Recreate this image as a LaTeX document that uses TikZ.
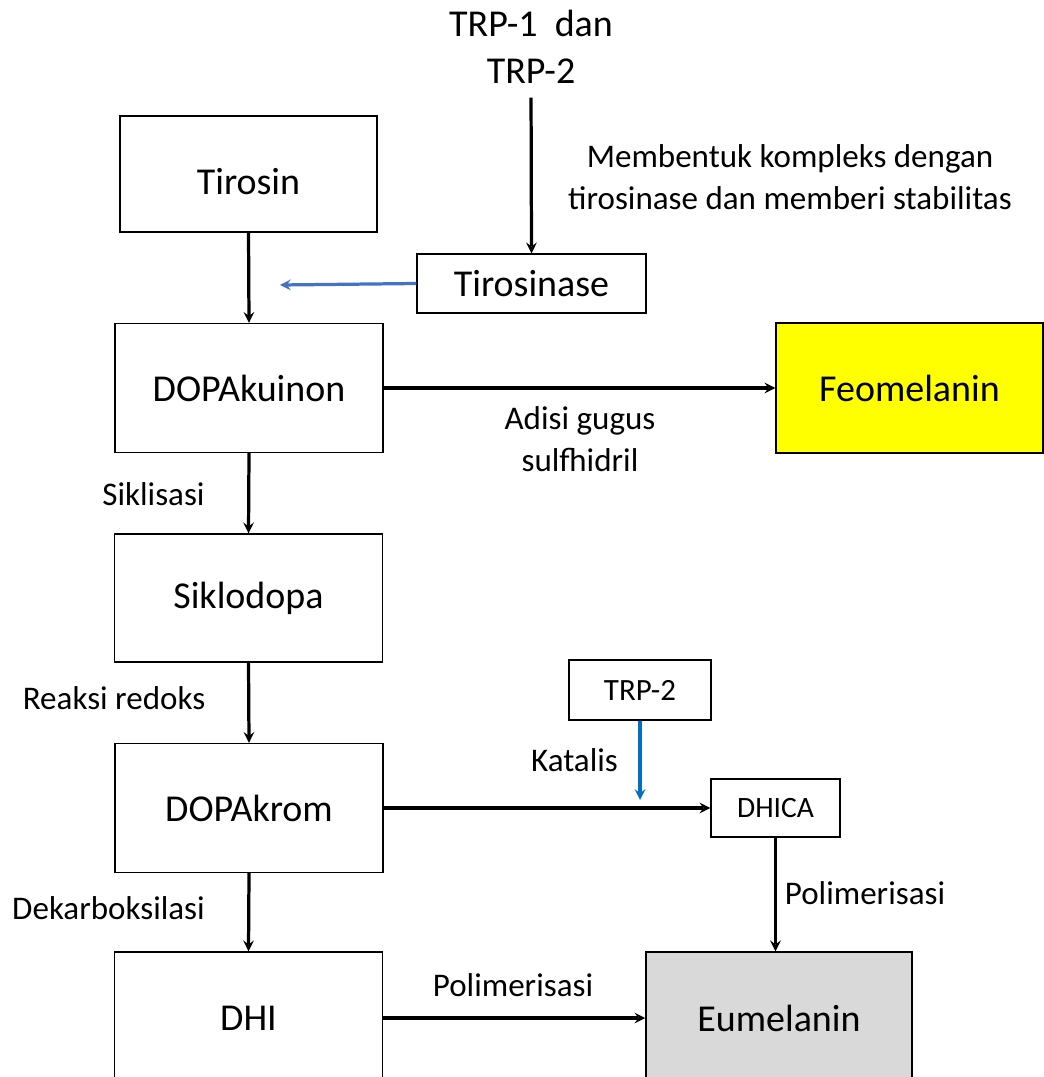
\documentclass[tikz,border=0pt]{standalone}
\usepackage{fontspec}
\setmainfont{Carlito}
\definecolor{tirblue}{HTML}{4472C4}
\definecolor{catblue}{HTML}{0070C0}
\definecolor{feoyellow}{HTML}{FFFF00}
\definecolor{eugray}{HTML}{D9D9D9}

\begin{document}
\begin{tikzpicture}[x=0.025cm,y=-0.025cm,>=stealth,
    flow/.style={->,line width=2.3pt},
    helper/.style={->,line width=2.3pt},
    box/.style={draw,line width=1pt,inner sep=0pt,font=\fontsize{27}{33}\selectfont},
    bigbox/.style={box,minimum width=6.7cm,minimum height=3.225cm},
    smallbox/.style={box,font=\fontsize{21}{25}\selectfont},
    note/.style={align=center,inner sep=0pt,font=\fontsize{23.5}{30}\selectfont}]
    \clip (0,0) rectangle (1044,1077);

    % enzim
    \node[align=center,inner sep=0pt,font=\fontsize{27}{33}\selectfont] (trp) at (531,47) {TRP-1~~dan\\TRP-2};
    \node[box,minimum width=5.725cm,minimum height=1.475cm] (tirosinase) at (531.5,283.5) {Tirosinase};
    \node[smallbox,font=\fontsize{22}{26}\selectfont,minimum width=3.55cm,minimum height=1.5cm] (trp2) at (640,690) {TRP-2};
    \node[smallbox,minimum width=3.225cm,minimum height=1.45cm] (dhica) at (775.5,808) {DHICA};

    % jalur utama
    \node[bigbox,minimum width=6.425cm,minimum height=2.9cm,text height=29pt] (tirosin) at (248.5,174) {Tirosin};
    \node[bigbox] (dopakuinon) at (249,388) {DOPAkuinon};
    \node[bigbox,fill=feoyellow,minimum width=6.675cm,minimum height=3.25cm] (feomelanin) at (909.5,388) {Feomelanin};
    \node[bigbox,minimum height=3.2cm] (siklodopa) at (248.5,598) {Siklodopa};
    \node[bigbox] (dopakrom) at (249,808) {DOPAkrom};
    \node[bigbox,minimum height=3.3cm] (dhi) at (248.5,1018) {DHI};
    \node[bigbox,fill=eugray,minimum width=6.65cm,minimum height=3.3cm] (eumelanin) at (779,1018) {Eumelanin};

    \coordinate (tiroshit) at (280,285);
    \coordinate (trphit) at (640,800);

    \draw[flow,shorten <=10pt] (trp.south) -- (tirosinase.north);
    \draw[flow] (tirosin.south) -- (dopakuinon.north);
    \draw[flow] (dopakuinon.east) -- (feomelanin.west);
    \draw[flow] (dopakuinon.south) -- (siklodopa.north);
    \draw[flow] (siklodopa.south) -- (dopakrom.north);
    \draw[flow] (dopakrom.east) -- (dhica.west);
    \draw[flow] (dopakrom.south) -- (dhi.north);
    \draw[flow] (dhica.south) -- (dhica.south |- eumelanin.north);
    \draw[flow] (dhi.east) -- (eumelanin.west);
    \draw[helper,tirblue] (tirosinase.west) -- (tiroshit);
    \draw[helper,catblue] (trp2.south) -- (trphit);

    % keterangan
    \node[note] (stabil) at (790,177) {Membentuk kompleks dengan\\tirosinase dan memberi stabilitas};
    \node[note] (adisi) at (580,439) {Adisi gugus\\sulfhidril};
    \node[note] (siklisasi) at (153.5,494) {Siklisasi};
    \node[note] (redoks) at (114,698) {Reaksi redoks};
    \node[note] (katalis) at (574.5,760) {Katalis};
    \node[note] (polidhica) at (865,893) {Polimerisasi};
    \node[note] (dekarb) at (108.5,908) {Dekarboksilasi};
    \node[note] (polidhi) at (513,985) {Polimerisasi};
\end{tikzpicture}
\end{document}
